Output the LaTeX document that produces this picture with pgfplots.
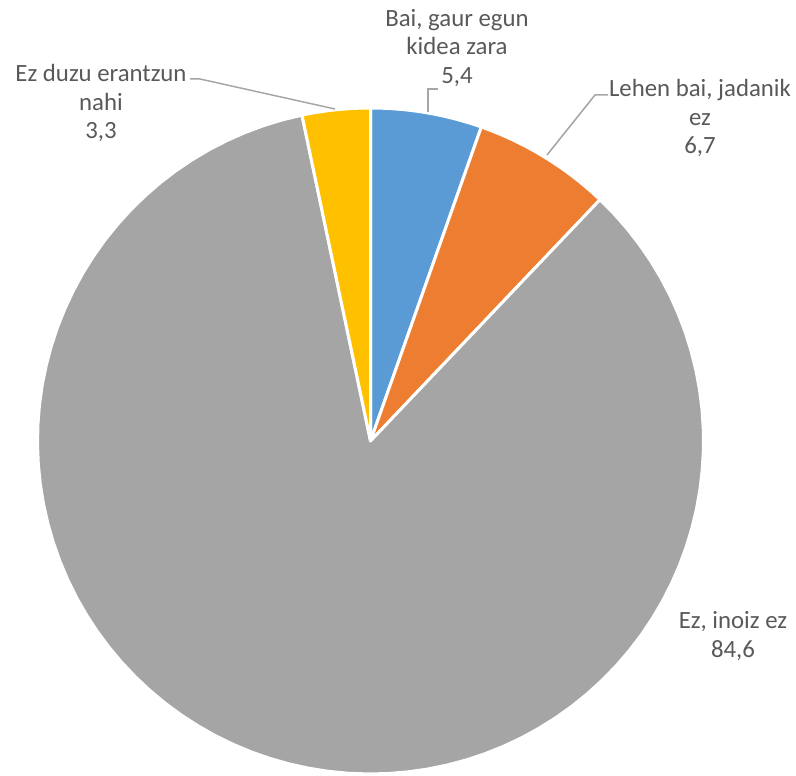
\documentclass[border=0pt]{standalone}
\usepackage{pgfplots}
\pgfplotsset{compat=1.18}
\usepackage{pgfplotstable}
\usepackage{fontspec}
\setmainfont{Carlito}

\definecolor{slice0}{HTML}{5B9BD5}
\definecolor{slice1}{HTML}{ED7D31}
\definecolor{slice2}{HTML}{A5A5A5}
\definecolor{slice3}{HTML}{FFC000}
\definecolor{lbl}{HTML}{595959}
\definecolor{leader}{HTML}{A6A6A6}

% pie values, clockwise from 12 o'clock
\pgfplotstableread{
value
5.4
6.7
84.6
3.3
}\piedata

\def\cx{370.5}
\def\cy{332}
\def\R{333}

\begin{document}
\begin{tikzpicture}[
  lab/.style={font=\fontsize{12.4}{14.3}\selectfont, text=lbl, align=center, inner sep=0pt},
]
\begin{axis}[
  scale only axis,
  width=398pt, height=386.5pt,
  xmin=0, xmax=796, ymin=0, ymax=773,
  hide axis, clip=false,
]
\path (axis cs:0,0) rectangle (axis cs:796,773);
\def\cumul{0}
\pgfplotstablegetrowsof{\piedata}
\pgfmathtruncatemacro\nrows{\pgfplotsretval-1}
\pgfplotsforeachungrouped \i in {0,...,\nrows}{
  \pgfplotstablegetelem{\i}{value}\of\piedata
  \pgfmathsetmacro\aS{90-3.6*\cumul}
  \pgfmathsetmacro\cumul{\cumul+\pgfplotsretval}
  \pgfmathsetmacro\aE{90-3.6*\cumul}
  \edef\temp{\noexpand\fill[slice\i, draw=white, line width=1.5pt, line join=round]
    (axis cs:\cx,\cy) -- plot[domain=\aS:\aE, samples=90, variable=\noexpand\t]
    ({\cx+\R*cos(\noexpand\t)},{\cy+\R*sin(\noexpand\t)}) -- cycle;}
  \temp
}
% leader lines
\draw[leader, line width=0.75pt] (axis cs:190,694) -- (axis cs:200,694) -- (axis cs:335,664);
\draw[leader, line width=0.75pt] (axis cs:438,684) -- (axis cs:428,684) -- (axis cs:428,661);
\draw[leader, line width=0.75pt] (axis cs:608,678) -- (axis cs:595,678) -- (axis cs:547,618);
% labels
\node[lab] at (axis cs:457,725) {Bai, gaur egun\\kidea zara\\5,4};
\node[lab] at (axis cs:700,655) {Lehen bai, jadanik\\ez\\6,7};
\node[lab] at (axis cs:733,137) {Ez, inoiz ez\\84,6};
\node[lab] at (axis cs:101,670) {Ez duzu erantzun\\nahi\\3,3};
\end{axis}
\end{tikzpicture}
\end{document}
